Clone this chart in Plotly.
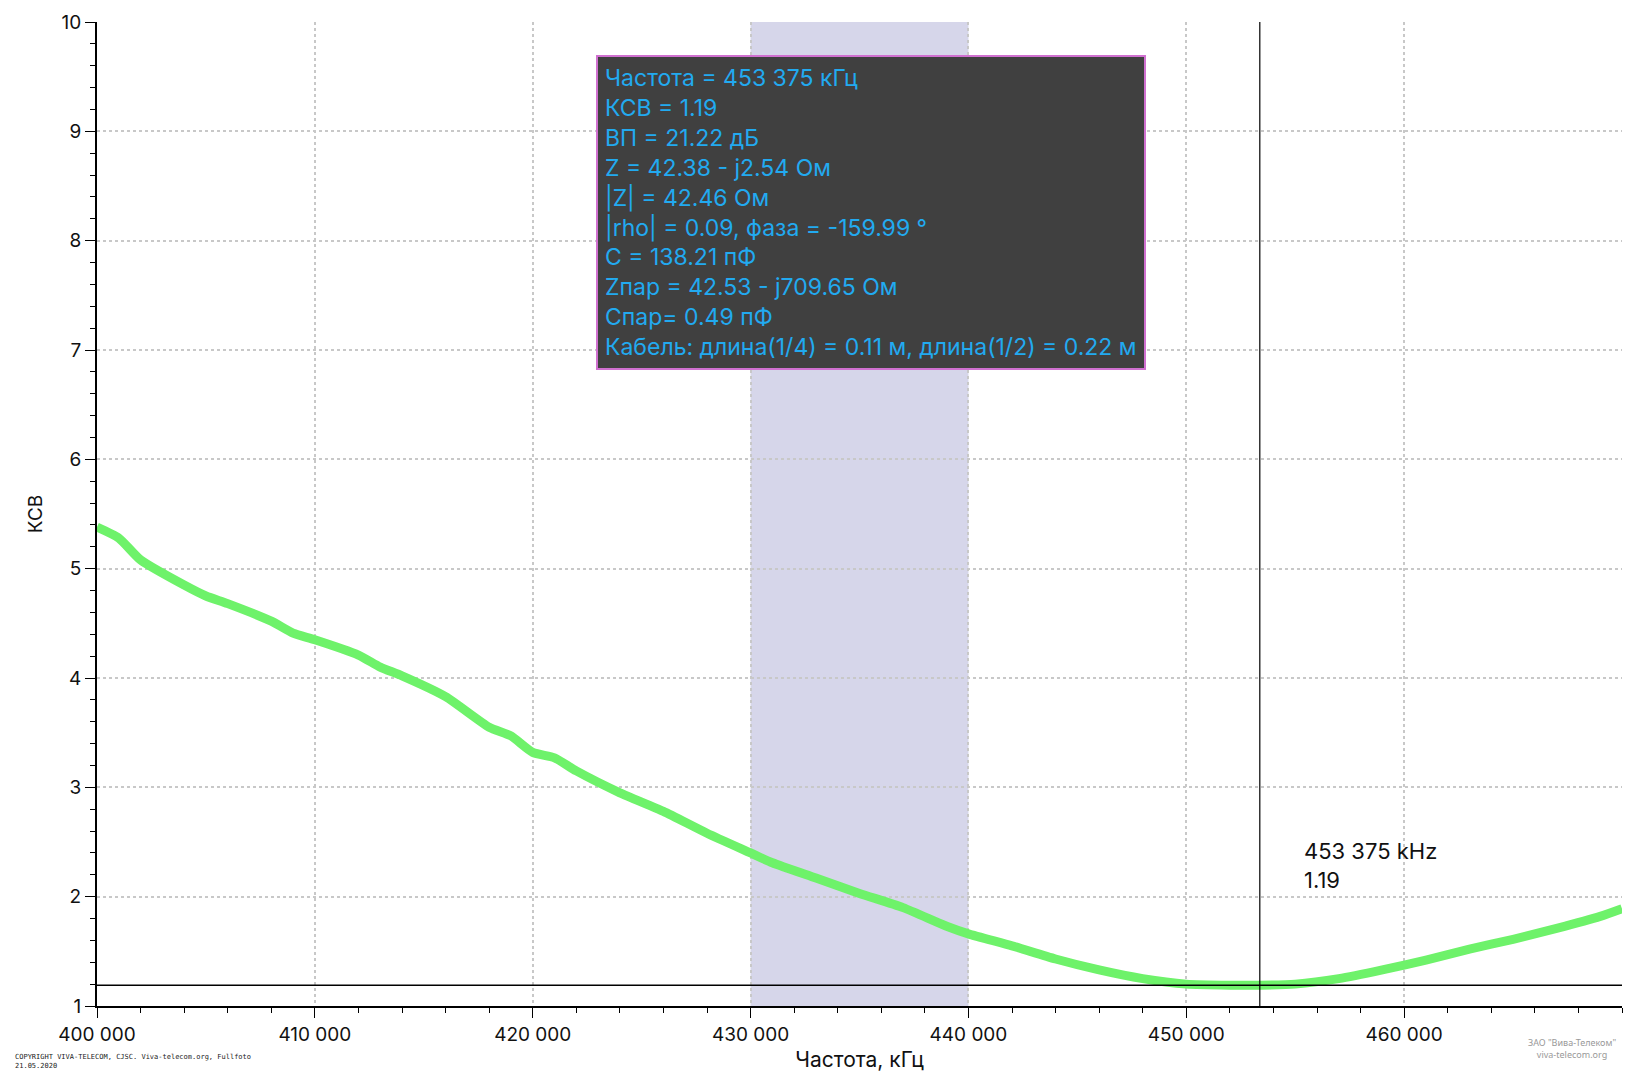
import plotly.graph_objects as go

freq_khz = [400000,401000,402000,404000,405000,406000,408000,409000,410000,412000,413000,414000,416000,418000,419000,420000,421000,422000,424000,426000,428000,430000,431000,433000,435000,437000,439000,440000,442000,444000,446000,448000,450000,452000,453375,455000,457000,459000,461000,463000,465000,467000,469000,470000]
swr = [5.38,5.28,5.08,4.85,4.75,4.68,4.52,4.41,4.35,4.21,4.10,4.02,3.83,3.55,3.47,3.32,3.27,3.15,2.95,2.78,2.58,2.40,2.31,2.17,2.03,1.90,1.73,1.66,1.55,1.43,1.33,1.25,1.20,1.19,1.19,1.20,1.25,1.33,1.42,1.52,1.61,1.71,1.82,1.89]
band = [430000, 440000]
marker_f = 453375
marker_swr = 1.19
x_ticks = [400000,410000,420000,430000,440000,450000,460000]
x_labels = ["400 000","410 000","420 000","430 000","440 000","450 000","460 000"]
info_lines = ["Частота = 453 375 кГц","КСВ = 1.19","ВП = 21.22 дБ","Z = 42.38 - j2.54 Ом","|Z| = 42.46 Ом",
              "|rho| = 0.09, фаза = -159.99 °","C = 138.21 пФ","Zпар = 42.53 - j709.65 Ом","Спар= 0.49 пФ",
              "Кабель: длина(1/4) = 0.11 м, длина(1/2) = 0.22 м"]

fig = go.Figure()
fig.add_trace(go.Scatter(x=freq_khz, y=swr, mode="lines", line=dict(color="#6EF26A", width=9, shape="spline", smoothing=0.6),
                         hoverinfo="skip", showlegend=False))
fig.add_vrect(x0=band[0], x1=band[1], fillcolor="rgb(214,214,234)", line_width=0, layer="below")
fig.add_hline(y=marker_swr, line=dict(color="black", width=1.5))
fig.add_vline(x=marker_f, line=dict(color="black", width=1.2))

fig.add_annotation(x=marker_f, y=marker_swr, xref="x", yref="y",
                   showarrow=False, xanchor="left", yanchor="bottom", xshift=42, yshift=90,
                   text=f"453 375 kHz<br>{marker_swr}", align="left",
                   font=dict(family="Inter", size=22, color="#111"))
fig.add_annotation(xref="paper", yref="paper", x=0.327, y=0.966, xanchor="left", yanchor="top", showarrow=False,
                   text="<br>".join(info_lines), align="left",
                   font=dict(family="Inter", size=23, color="#22AAF0"),
                   bgcolor="rgb(64,64,64)", bordercolor="#D070D0", borderwidth=2, borderpad=7)
fig.add_annotation(xref="paper", yref="paper", x=-0.055, y=-0.046, xanchor="left", yanchor="top", showarrow=False,
                   text="COPYRIGHT VIVA-TELECOM, CJSC. Viva-telecom.org, Fullfoto<br>21.05.2020", align="left",
                   font=dict(family="DejaVu Sans Mono", size=7, color="#222"))
fig.add_annotation(xref="paper", yref="paper", x=0.967, y=-0.028, xanchor="center", yanchor="top", showarrow=False,
                   text="ЗАО \"Вива-Телеком\"<br>viva-telecom.org", align="center",
                   font=dict(family="Noto Sans", size=9, color="#999"))
fig.add_shape(type="rect", xref="paper", yref="paper", x0=-0.062, x1=-0.059, y0=-0.2, y1=1.1, line_width=0, fillcolor="#777")

ax_common = dict(showline=True, linecolor="black", linewidth=2, mirror=False, ticks="outside", ticklen=10,
                 tickcolor="black", showgrid=True, gridcolor="#C8C8C8", griddash="dot", gridwidth=1.5, zeroline=False,
                 tickfont=dict(family="Inter", size=19, color="#111"),
                 minor=dict(ticks="outside", ticklen=5, tickcolor="black", showgrid=False))
fig.update_xaxes(range=[400000, 470000], tickvals=x_ticks, ticktext=x_labels,
                 title=dict(text="Частота, кГц", font=dict(family="Inter", size=21, color="#111"), standoff=8),
                 **ax_common)
fig.update_xaxes(minor=dict(dtick=2000, tick0=400000))
fig.update_yaxes(range=[1, 10], dtick=1, title=dict(text="КСВ", font=dict(family="Inter", size=19, color="#111"), standoff=14),
                 **ax_common)
fig.update_yaxes(minor=dict(dtick=0.2))
fig.update_layout(width=1648, height=1080, plot_bgcolor="white", paper_bgcolor="white",
                  margin=dict(l=89, r=34, t=14, b=82, autoexpand=False))
fig.write_html("out.html")
